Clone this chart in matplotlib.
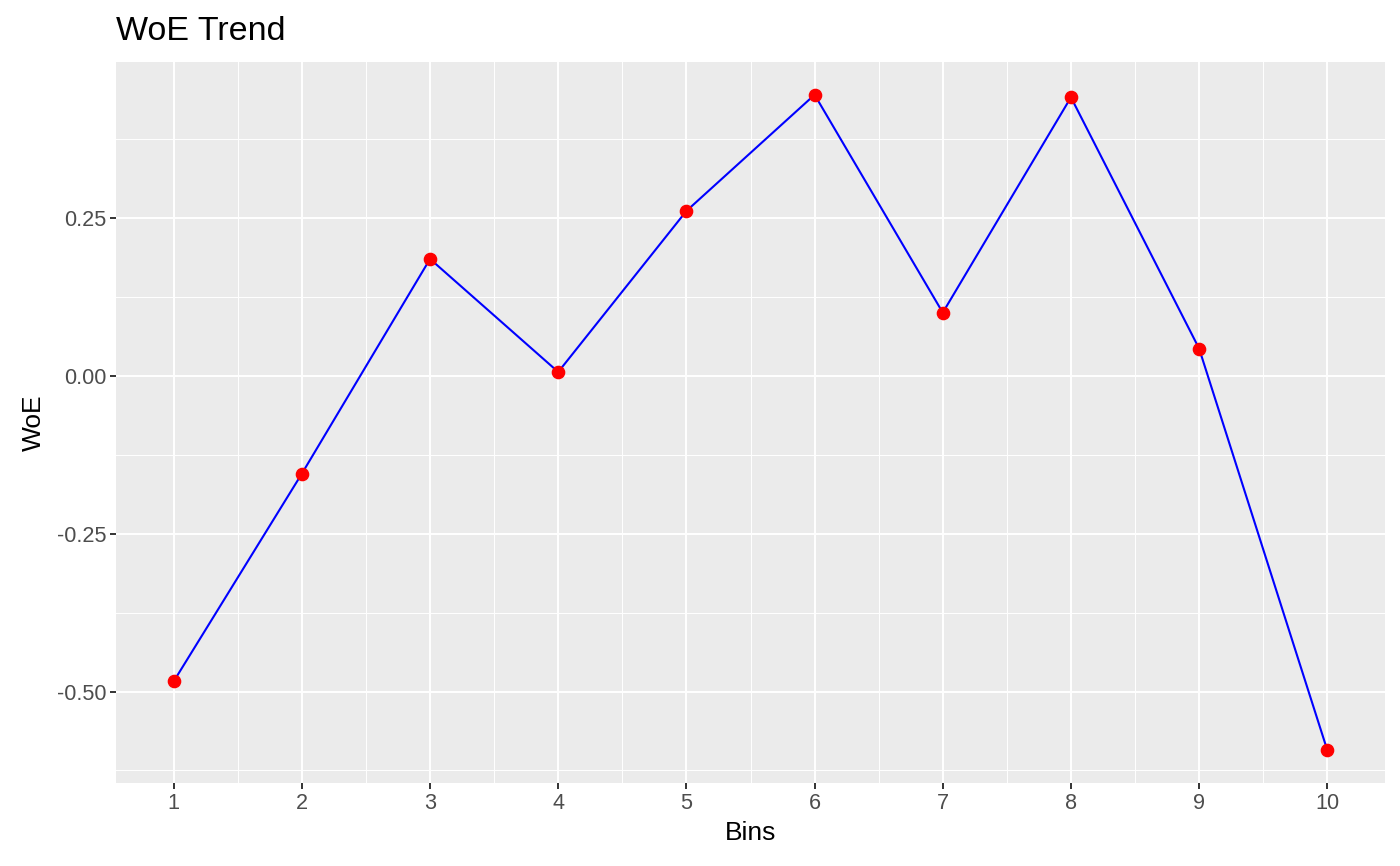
import matplotlib
matplotlib.use("Agg")
from matplotlib import pyplot as plt
from matplotlib.ticker import FixedLocator

# WoE per bin
bins = [1, 2, 3, 4, 5, 6, 7, 8, 9, 10]
woe = [-0.484, -0.155, 0.185, 0.006, 0.261, 0.445, 0.100, 0.441, 0.043, -0.593]
y_ticks = [-0.50, -0.25, 0.00, 0.25]
y_tick_labels = ["-0.50", "-0.25", "0.00", "0.25"]

plt.rcParams["font.family"] = ["Liberation Sans", "DejaVu Sans"]

fig = plt.figure(figsize=(14, 8.66), dpi=100)
ax = fig.add_axes([116 / 1400, 1 - 783 / 866, (1385 - 116) / 1400, (783 - 62) / 866])
ax.set_facecolor("#EBEBEB")

ax.plot(bins, woe, color="blue", linewidth=1.5, zorder=3)
ax.plot(bins, woe, linestyle="none", marker="o", color="red", markersize=8.8, zorder=4)

# ggplot-like default expansion of 5%
xr = max(bins) - min(bins)
yr = max(woe) - min(woe)
ax.set_xlim(min(bins) - 0.05 * xr, max(bins) + 0.05 * xr)
ax.set_ylim(min(woe) - 0.05 * yr, max(woe) + 0.05 * yr)

ax.set_xticks(bins)
ax.set_xticklabels([str(b) for b in bins])
ax.set_yticks(y_ticks)
ax.set_yticklabels(y_tick_labels)
ax.xaxis.set_minor_locator(FixedLocator([b + 0.5 for b in bins[:-1]]))
ax.yaxis.set_minor_locator(FixedLocator([-0.625, -0.375, -0.125, 0.125, 0.375]))

ax.grid(which="major", color="white", linewidth=1.4)
ax.grid(which="minor", color="white", linewidth=0.7)
ax.set_axisbelow(True)

for spine in ax.spines.values():
    spine.set_visible(False)

ax.tick_params(which="major", length=4, width=1.4, color="#333333",
               labelcolor="#4D4D4D", labelsize=15.6, pad=3)
ax.tick_params(which="minor", length=0)

ax.set_xlabel("Bins", fontsize=19, color="black", labelpad=5)
ax.set_ylabel("WoE", fontsize=19, color="black", labelpad=8)
fig.text(116 / 1400, 1 - 40 / 866, "WoE Trend", fontsize=24.5, color="black",
         ha="left", va="baseline")

fig.savefig("out.png", dpi=100)
